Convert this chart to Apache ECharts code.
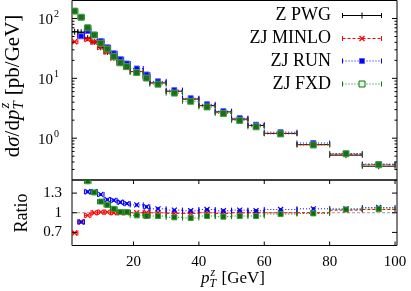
<!DOCTYPE html>
<html><head><meta charset="utf-8">
<script src="https://cdn.jsdelivr.net/npm/echarts@6/dist/echarts.min.js"></script>
<style>html,body{margin:0;padding:0;background:#fff}#c{width:411px;height:291px}</style>
</head><body><div id="c"></div>
<script>
// ---- data ----
const binLo     = [1,3,5,7,9,11,13,15,17,19,23,25,30,35,40,45,50,55,60,70,80,90];
const binHi     = [3,5,7,9,11,13,15,17,19,23,25,30,35,40,45,50,55,60,70,80,90,100];
const binCenter = [2,4,6,8,10,12,14,16,18,21,24,27.5,32.5,37.5,42.5,47.5,52.5,57.5,65,75,85,95];

const zPWG    = [60, 59, 47, 40.5, 33, 27.5, 22, 18, 15.5, 13, 10.6, 8.4, 6.1, 4.5, 3.5, 2.75, 2.08, 1.63, 1.2, 0.78, 0.52, 0.34];
const zjMINLO = [41, 50.5, 45, 40.5, 33.3, 27.8, 22, 18, 15.5, 13, 10.6, 8.4, 6.05, 4.45, 3.5, 2.72, 2.08, 1.63, 1.2, 0.78, 0.54, 0.36];
const zjRUN   = [null, 50.5, 62, 53.5, 42, 33, 26.2, 20.9, 17.7, 14.6, 11.6, 8.9, 6.35, 4.65, 3.68, 2.83, 2.16, 1.68, 1.26, 0.83, 0.55, 0.37];
const zjFXD   = [133, 105, 70, 53, 38.6, 30.8, 23.3, 18.2, 15.7, 12.5, 10.1, 8.0, 5.67, 4.14, 3.33, 2.59, 1.98, 1.55, 1.18, 0.77, 0.55, 0.36];

const ratioMINLO = [0.69, 0.86, 0.96, 1.0, 1.01, 1.01, 1.0, 1.0, 1.0, 1.0, 1.0, 1.0, 0.99, 0.99, 1.0, 0.99, 1.0, 1.0, 1.0, 1.0, 1.04, 1.05];
const ratioRUN   = [null, 0.86, 1.32, 1.32, 1.28, 1.2, 1.19, 1.16, 1.14, 1.12, 1.09, 1.06, 1.04, 1.03, 1.05, 1.03, 1.04, 1.03, 1.05, 1.06, 1.06, 1.08];
const ratioFXD   = [null, null, 1.48, 1.31, 1.17, 1.12, 1.06, 1.01, 1.01, 0.96, 0.95, 0.95, 0.93, 0.92, 0.95, 0.94, 0.95, 0.95, 0.98, 0.99, 1.05, 1.06];

const legendNames = ['Z PWG', 'ZJ MINLO', 'ZJ RUN', 'ZJ FXD'];
const logMajor = [1, 10, 100];
const logMinor = [0.3,0.4,0.5,0.6,0.7,0.8,0.9,2,3,4,5,6,7,8,9,20,30,40,50,60,70,80,90];
const ratioTicks = [0.7, 1, 1.3];
const xTicks = [20, 40, 60, 80, 100];

// ---- styles ----
const FONT = '"Liberation Serif", "Times New Roman", serif';
const RED = '#ff0000', BLUE = '#0000ff', GREEN = '#0a7a0a';
const ST = {
  pwg:   {color:'#000', dash:null, marker:'plus'},
  minlo: {color:RED, dash:[3,2], marker:'cross'},
  run:   {color:BLUE, dash:[1,2], marker:'square', size:5, fill:BLUE, stroke:'#5a5aff'},
  fxd:   {color:GREEN, dash:[1,2], marker:'square', size:6, fill:'#1c6e1c', stroke:'#45a045'},
  rminlo:{color:RED, dash:[3,2], marker:'cross'},
  rrun:  {color:BLUE, dash:[1,2], marker:'xsq'},
  rfxd:  {color:GREEN, dash:[1,2], marker:'square', size:5, fill:'#106a10', stroke:'#3a9a3a'}
};

function ln(x1,y1,x2,y2,color,lw,dash){
  return {type:'line', shape:{x1,y1,x2,y2}, style:{stroke:color, lineWidth:lw||1, lineDash:dash||null}};
}
function markerEls(st, cx, cy){
  const c = st.color;
  if (st.marker === 'plus') return [ln(cx-3,cy,cx+3,cy,c,1), ln(cx,cy-3,cx,cy+3,c,1)];
  if (st.marker === 'cross') { const r=2.5; return [ln(cx-r,cy-r,cx+r,cy+r,c,1.3), ln(cx-r,cy+r,cx+r,cy-r,c,1.3)]; }
  if (st.marker === 'xsq') { const r=2.5; return [
      {type:'rect', shape:{x:cx-1.5,y:cy-1.5,width:3,height:3}, style:{fill:c}},
      ln(cx-r,cy-r,cx+r,cy+r,c,1.2), ln(cx-r,cy+r,cx+r,cy-r,c,1.2)]; }
  if (st.marker === 'square') { const s=st.size; return [{type:'rect', shape:{x:cx-s/2,y:cy-s/2,width:s,height:s}, style:{fill:st.fill, stroke:st.stroke, lineWidth:1}}]; }
  if (st.marker === 'osquare') { const s=st.size; return [{type:'rect', shape:{x:cx-s/2,y:cy-s/2,width:s,height:s}, style:{fill:st.fill, stroke:st.stroke, lineWidth:1}}]; }
  return [];
}
function errRender(st){
  return function(params, api){
    const y = api.value(3);
    const p0 = api.coord([api.value(0), y]);
    const p1 = api.coord([api.value(1), y]);
    const pc = api.coord([api.value(2), y]);
    const cap = 2.5;
    const ch = [
      ln(p0[0],p0[1],p1[0],p1[1],st.color,1,st.dash),
      ln(p0[0],p0[1]-cap,p0[0],p0[1]+cap,st.color,1),
      ln(p1[0],p1[1]-cap,p1[0],p1[1]+cap,st.color,1)
    ].concat(markerEls(st, pc[0], pc[1]));
    return {type:'group', children: ch};
  };
}
function items(vals){
  const out = [];
  vals.forEach((v,i)=>{ if (v != null) out.push([binLo[i], binHi[i], binCenter[i], v]); });
  return out;
}
function errSeries(vals, gi, st){
  return {type:'custom', xAxisIndex:gi, yAxisIndex:gi, clip:true, silent:true, animation:false,
          data: items(vals), encode:{x:[0,1,2], y:3}, renderItem: errRender(st)};
}

// ticks drawn through the axes' scales
function tickSeriesTop(){
  return {type:'custom', xAxisIndex:0, yAxisIndex:0, silent:true, animation:false, z:5,
    data:[[50,1]], renderItem: function(params, api){
      const cs = params.coordSys; const L = cs.x, R = cs.x + cs.width; const ch = [];
      logMajor.forEach(v=>{ const y = api.coord([50, v])[1]; ch.push(ln(L,y,L+5,y,'#000',1), ln(R,y,R-5,y,'#000',1)); });
      logMinor.forEach(v=>{ const y = api.coord([50, v])[1]; ch.push(ln(L,y,L+2.5,y,'#000',1), ln(R,y,R-2.5,y,'#000',1)); });
      return {type:'group', children: ch};
    }};
}
function tickSeriesRatio(){
  return {type:'custom', xAxisIndex:1, yAxisIndex:1, silent:true, animation:false, z:5,
    data:[[50,1]], renderItem: function(params, api){
      const cs = params.coordSys; const L = cs.x, R = cs.x + cs.width, T = cs.y, B = cs.y + cs.height; const ch = [];
      ratioTicks.forEach(v=>{ const y = api.coord([50, v])[1]; ch.push(ln(L,y,L+5,y,'#000',1), ln(R,y,R-5,y,'#000',1)); });
      xTicks.forEach(v=>{ const x = api.coord([v, 1])[0]; ch.push(ln(x,T,x,T+4,'#000',1), ln(x,B,x,B-4,'#000',1)); });
      return {type:'group', children: ch};
    }};
}
function refLineSeries(){
  return {type:'custom', xAxisIndex:1, yAxisIndex:1, silent:true, animation:false, z:1,
    data:[[50,1]], renderItem: function(params, api){
      const cs = params.coordSys; const y = api.coord([50, 1])[1];
      return ln(cs.x, y, cs.x + cs.width, y, '#9a9a9a', 1, [3,2]);
    }};
}

// ---- text helpers ----
const mctx = document.createElement('canvas').getContext('2d');
function tw(t, size, it){ mctx.font = (it?'italic ':'') + size + 'px ' + FONT; return mctx.measureText(t).width; }
function mathText(parts, size){
  let x = 0; const ch = [];
  const mk = (t, xx, yy, s, it) => ({type:'text', x:xx, y:yy, style:{text:t, fontSize:s, fontFamily:FONT, fontStyle: it?'italic':'normal', fill:'#000', align:'left', verticalAlign:'middle'}});
  parts.forEach(p=>{
    if (p.sup !== undefined) {
      const s = size*0.7;
      ch.push(mk(p.sup, x+1, -size*0.36, s, true));
      ch.push(mk(p.sub, x, size*0.3, s, true));
      x += Math.max(tw(p.sup,s,true)+1, tw(p.sub,s,true)) + 1;
    } else {
      ch.push(mk(p.t, x, 0, size, p.it));
      x += tw(p.t, size, p.it);
    }
  });
  return {children: ch, width: x};
}
function placed(parts, size, cx, cy, rot){
  const m = mathText(parts, size);
  m.children.forEach(c=>{ c.x -= m.width/2; });
  return {type:'group', x:cx, y:cy, rotation:rot||0, children:m.children, silent:true};
}

// legend
const legendStyles = [ST.pwg, ST.minlo, ST.run, Object.assign({}, ST.fxd, {marker:'osquare', fill:'#e4f2e4', stroke:GREEN})];
const legendY = [15.5, 38.5, 61, 84];
const graphics = [];
legendNames.forEach((name,i)=>{
  const y = legendY[i], st = legendStyles[i];
  graphics.push({type:'text', x:331, y:y, silent:true, style:{text:name, fontSize:18, fontFamily:FONT, fill:'#000', align:'right', verticalAlign:'middle'}});
  const x0 = 342.5, x1 = 381.5;
  const ch = [ln(x0,y,x1,y,st.color,1,st.dash), ln(x0,y-2.5,x0,y+2.5,st.color,1), ln(x1,y-2.5,x1,y+2.5,st.color,1)].concat(markerEls(st, 362, y));
  graphics.push({type:'group', silent:true, children: ch});
});
graphics.push(placed([{t:'d'},{t:'σ',it:true},{t:'/d'},{t:'p',it:true},{sup:'z',sub:'T'},{t:' [pb/GeV]'}], 21, 13, 86, Math.PI/2));
graphics.push(placed([{t:'Ratio'}], 18, 22, 213, Math.PI/2));
graphics.push(placed([{t:'p',it:true},{sup:'z',sub:'T'},{t:' [GeV]'}], 17, 233, 279, 0));

const near = (a,b)=>Math.abs(a-b)<1e-6;

const option = {
  animation:false,
  backgroundColor:'#fff',
  grid:[
    {left:72, top:0.5, width:325, height:179.5, show:true, borderColor:'#000', borderWidth:1, backgroundColor:'transparent'},
    {left:72, top:180, width:325, height:65.5, show:true, borderColor:'#000', borderWidth:1, backgroundColor:'transparent'}
  ],
  xAxis:[
    {gridIndex:0, type:'value', min:1.2, max:100.6, axisLabel:{show:false}, axisTick:{show:false}, axisLine:{show:false}, splitLine:{show:false}},
    {gridIndex:1, type:'value', min:1.2, max:100.6, axisTick:{show:false}, axisLine:{show:false}, splitLine:{show:false},
     axisLabel:{show:true, showMinLabel:false, showMaxLabel:false, color:'#000', fontSize:15, fontFamily:FONT, margin:9,
       formatter: v => xTicks.some(t=>near(t,v)) ? String(Math.round(v)) : ''}}
  ],
  yAxis:[
    {gridIndex:0, type:'log', logBase:10, min:0.2, max:200, axisTick:{show:false}, axisLine:{show:false}, splitLine:{show:false},
     axisLabel:{color:'#000', margin:13,
       formatter: v => { const e = Math.log10(v); return near(e, Math.round(e)) ? '{b|10}{s|' + Math.round(e) + '}' : ''; },
       rich:{ b:{fontSize:15, fontFamily:FONT, color:'#000', lineHeight:18, verticalAlign:'bottom'},
              s:{fontSize:10, fontFamily:FONT, color:'#000', lineHeight:18, verticalAlign:'top', padding:[0,0,6,1]} }}},
    {gridIndex:1, type:'value', min:0.5, max:1.5, interval:0.1, axisTick:{show:false}, axisLine:{show:false}, splitLine:{show:false},
     axisLabel:{color:'#000', fontSize:15, fontFamily:FONT, margin:10,
       formatter: v => near(v,0.7) ? '0.7' : near(v,1) ? '1' : near(v,1.3) ? '1.3' : ''}}
  ],
  graphic: graphics,
  series:[
    errSeries(zPWG, 0, ST.pwg),
    errSeries(zjMINLO, 0, ST.minlo),
    errSeries(zjRUN, 0, ST.run),
    errSeries(zjFXD, 0, ST.fxd),
    tickSeriesTop(),
    refLineSeries(),
    errSeries(ratioMINLO, 1, ST.rminlo),
    errSeries(ratioRUN, 1, ST.rrun),
    errSeries(ratioFXD, 1, ST.rfxd),
    tickSeriesRatio()
  ]
};
const chart = echarts.init(document.getElementById('c'), null, {renderer:'canvas'});
chart.setOption(option);
</script></body></html>
